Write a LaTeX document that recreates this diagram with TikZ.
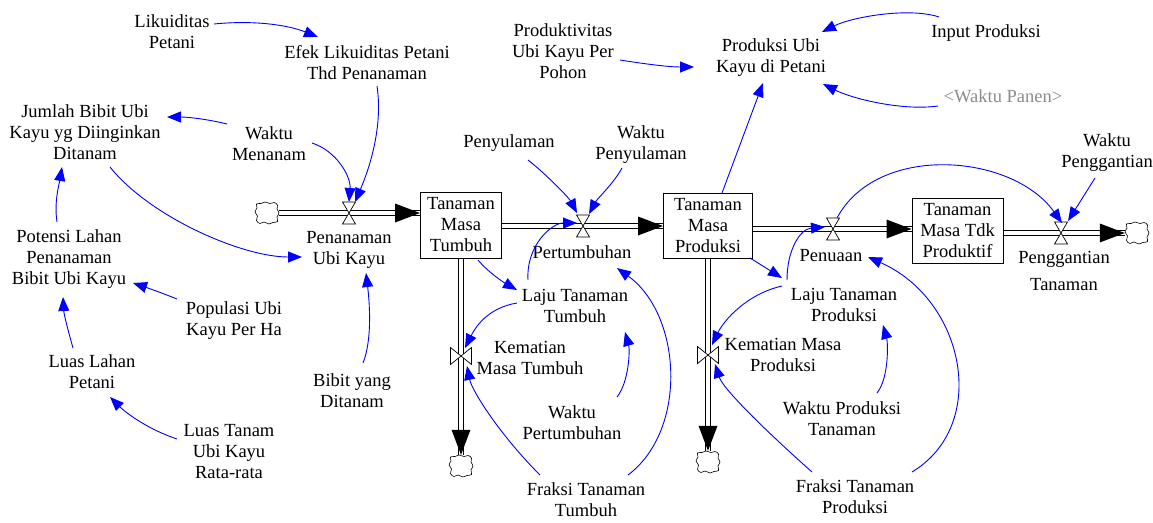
\documentclass[tikz,border=0pt]{standalone}
\usepackage{fontspec}
\setmainfont{Liberation Serif}
\usetikzlibrary{arrows.meta}

\tikzset{
  var/.style={align=center, inner sep=1pt, font=\fontsize{18.5}{21}\selectfont},
  shadowvar/.style={var, text=black!45},
  stockbox/.style={draw, line width=1pt, align=center, inner sep=0pt,
    font=\fontsize{18.5}{21}\selectfont},
  valvept/.style={inner sep=0pt, minimum width=13pt, minimum height=22pt},
  sink/.style={inner sep=0pt, minimum width=24pt, minimum height=22pt},
  link/.style={blue, line width=0.9pt, -{Triangle[length=14pt,width=11pt]}},
  pipe/.style={line width=1.1pt, double distance=3.2pt},
  valveh/.pic={\draw[fill=white, line width=0.7pt]
      (-6.5,-11) -- (6.5,-11) -- (0,0) -- cycle
      (-6.5,11) -- (6.5,11) -- (0,0) -- cycle;},
  valvev/.pic={\draw[fill=white, line width=0.7pt]
      (-10.5,-8.5) -- (-10.5,8.5) -- (0,0) -- cycle
      (10.5,-8.5) -- (10.5,8.5) -- (0,0) -- cycle;},
  puff/.pic={\draw[fill=white, line width=0.6pt] plot[smooth cycle, tension=0.7] coordinates {
      (12,0) (10,4) (10.5,8.5) (6,9.5) (2,11) (-3,9) (-7,10.5) (-10.5,7.5) (-9.5,3)
      (-12,-1) (-10,-5) (-10.5,-9) (-6,-9.5) (-2,-11) (3,-9.5) (7,-10.5) (10.5,-8) (10,-4)};},
  headright/.pic={\fill (0,0) -- (-25,-9.5) -- (-25,9.5) -- cycle;},
  headdown/.pic={\fill (0,0) -- (-9.5,-25) -- (9.5,-25) -- cycle;},
}

\begin{document}
\begin{tikzpicture}[x=1pt,y=-1pt]
\useasboundingbox (0,0) rectangle (1153,522);

% ---- stocks
\node[stockbox, minimum width=81pt, minimum height=66pt] (tmt) at (461,225) {Tanaman\\Masa\\Tumbuh};
\node[stockbox, minimum width=89pt, minimum height=65pt] (tmp) at (708,225.5) {Tanaman\\Masa\\Produksi};
\node[stockbox, minimum width=91pt, minimum height=65pt] (tmtp) at (957.5,230.5) {Tanaman\\Masa Tdk\\Produktif};

% ---- valve positions
\node[valvept] (v1) at (349,213) {};
\node[valvept] (v2) at (583,226) {};
\node[valvept] (v3) at (833,229) {};
\node[valvept] (v4) at (1061,233) {};
\node[valvept] (v5) at (461,356) {};
\node[valvept] (v6) at (708,355) {};

% ---- sources and sinks
\node[sink] (cl1) at (267,213) {};
\node[sink] (cl4) at (1137,233) {};
\node[sink] (cl5) at (461,466) {};
\node[sink] (cl6) at (708,462) {};

% ---- flow pipes
\draw[pipe] (cl1.east) -- (v1 -| tmt.west);
\pic at (v1 -| tmt.west) {headright};
\draw[pipe] (v2 -| tmt.east) -- (v2 -| tmp.west);
\pic at (v2 -| tmp.west) {headright};
\draw[pipe] (v3 -| tmp.east) -- (v3 -| tmtp.west);
\pic at (v3 -| tmtp.west) {headright};
\draw[pipe] (v4 -| tmtp.east) -- (cl4.west);
\pic at (cl4.west) {headright};
\draw[pipe] (tmt.south) -- (cl5.north);
\pic at (cl5.north) {headdown};
\draw[pipe] (tmp.south) -- (cl6.north);
\pic at (cl6.north) {headdown};

\pic at (cl1) {puff};
\pic at (cl4) {puff};
\pic at (cl5) {puff};
\pic at (cl6) {puff};

\pic at (v1) {valveh};
\pic at (v2) {valveh};
\pic at (v3) {valveh};
\pic at (v4) {valveh};
\pic at (v5) {valvev};
\pic at (v6) {valvev};

% ---- variables
\node[var] (lik) at (172,32) {Likuiditas\\Petani};
\node[var] (efek) at (367,63) {Efek Likuiditas Petani\\Thd Penanaman};
\node[var] (jbb) at (85,132) {Jumlah Bibit Ubi\\Kayu yg Diinginkan\\Ditanam};
\node[var] (wm) at (269,144) {Waktu\\Menanam};
\node[var] (pot) at (69,259) {Potensi Lahan\\Penanaman\\Bibit Ubi Kayu};
\node[var] (pop) at (234,321) {Populasi Ubi\\Kayu Per Ha};
\node[var] (lua) at (92,372) {Luas Lahan\\Petani};
\node[var] (lrt) at (229,452) {Luas Tanam\\Ubi Kayu\\Rata-rata};
\node[var] (bib) at (352,391) {Bibit yang\\Ditanam};
\node[var] (pen) at (349,250) {Penanaman\\Ubi Kayu};
\node[var] (pert) at (582,252) {Pertumbuhan};
\node[var] (penu) at (831,256) {Penuaan};
\node[var] (pgt) at (1064,271) {Penggantian\\[6pt]Tanaman};
\node[var] (kmt) at (530,358) {Kematian\\Masa Tumbuh};
\node[var] (kmp) at (783,355) {Kematian Masa\\Produksi};
\node[var] (ltt) at (575,306) {Laju Tanaman\\Tumbuh};
\node[var] (peny) at (509,143) {Penyulaman};
\node[var] (wpy) at (641,145) {Waktu\\Penyulaman};
\node[var] (prod) at (563,51) {Produktivitas\\Ubi Kayu Per\\Pohon};
\node[var] (pukp) at (771,58) {Produksi Ubi\\Kayu di Petani};
\node[var] (inp) at (986,33) {Input Produksi};
\node[shadowvar] (wpn) at (1003,96) {<Waktu Panen>};
\node[var] (wpg) at (1107,153) {Waktu\\Penggantian};
\node[var] (ltp) at (844,305) {Laju Tanaman\\Produksi};
\node[var] (wpt) at (572,423) {Waktu\\Pertumbuhan};
\node[var] (wpdt) at (842,419) {Waktu Produksi\\Tanaman};
\node[var] (ftt) at (586,500) {Fraksi Tanaman\\Tumbuh};
\node[var] (ftp) at (855,497) {Fraksi Tanaman\\Produksi};

% ---- causal links
\draw[link] ([shift={(42,-8)}]lik.center) .. controls +(40,-4) and +(-30,-12) .. ([shift={(-49,-26)}]efek.center);
\draw[link] ([shift={(10,23)}]efek.center) .. controls +(6,40) and +(15,-35) .. ([shift={(6,-11)}]v1.center);
\draw[link] ([shift={(-42,-20)}]wm.center) .. controls +(-20,-5) and +(20,0) .. ([shift={(82,-15)}]jbb.center);
\draw[link] ([shift={(43,-1)}]wm.center) .. controls +(25,8) and +(2,-25) .. ([shift={(0,-11)}]v1.center);
\draw[link] ([shift={(25,35)}]jbb.center) .. controls +(40,50) and +(-60,0) .. ([shift={(-47,7)}]pen.center);
\draw[link] ([shift={(-12,-37)}]pot.center) .. controls +(-3,-20) and +(-3,18) .. ([shift={(-23,35)}]jbb.center);
\draw[link] ([shift={(-57,-22)}]pop.center) .. controls +(-15,-6) and +(15,5) .. ([shift={(64,24)}]pot.center);
\draw[link] ([shift={(-19,-24)}]lua.center) .. controls +(-5,-18) and +(1,18) .. ([shift={(-6,38)}]pot.center);
\draw[link] ([shift={(-52,-13)}]lrt.center) .. controls +(-30,-10) and +(15,15) .. ([shift={(18,25)}]lua.center);
\draw[link] ([shift={(11,-28)}]bib.center) .. controls +(10,-25) and +(3,25) .. ([shift={(17,23)}]pen.center);
\draw[link] ([shift={(17,35)}]tmt.center) .. controls +(10,12) and +(-14,-8) .. ([shift={(-58,-16)}]ltt.center);
\draw[link] ([shift={(-47,-26)}]ltt.center) .. controls +(-2,-35) and +(-25,0) .. ([shift={(-6,-3)}]v2.center);
\draw[link] ([shift={(19,17)}]peny.center) .. controls +(18,14) and +(-8,-15) .. ([shift={(-6,-13)}]v2.center);
\draw[link] ([shift={(-19,23)}]wpy.center) .. controls +(-8,15) and +(8,-15) .. ([shift={(6,-12)}]v2.center);
\draw[link] ([shift={(-58,-3)}]ltt.center) .. controls +(-30,5) and +(10,-20) .. ([shift={(4,-8)}]v5.center);
\draw[link] ([shift={(45,-26)}]wpt.center) .. controls +(12,-15) and +(5,18) .. ([shift={(50,26)}]ltt.center);
\draw[link] ([shift={(-46,-25)}]ftt.center) .. controls +(-40,-40) and +(5,25) .. ([shift={(6,10)}]v5.center);
\draw[link] ([shift={(42,-25)}]ftt.center) .. controls +(60,-45) and +(65,47) .. ([shift={(35,16)}]pert.center);
\draw[link] ([shift={(14,-32.5)}]tmp.center) -- ([shift={(-8,25)}]pukp.center);
\draw[link] ([shift={(57,9)}]prod.center) .. controls +(25,4) and +(-25,0) .. ([shift={(-77,9)}]pukp.center);
\draw[link] ([shift={(-47,-16)}]inp.center) .. controls +(-30,-10) and +(30,-15) .. ([shift={(51,-26)}]pukp.center);
\draw[link] ([shift={(-65,10)}]wpn.center) .. controls +(-35,5) and +(30,15) .. ([shift={(52,26)}]pukp.center);
\draw[link] ([shift={(42,32.5)}]tmp.center) -- ([shift={(-62,-27)}]ltp.center);
\draw[link] ([shift={(-57,-25)}]ltp.center) .. controls +(0,-30) and +(-25,2) .. ([shift={(-8,-2)}]v3.center);
\draw[link] ([shift={(4,-11)}]v3.center) .. controls +(40,-75) and +(-50,-70) .. ([shift={(1,-10)}]v4.center);
\draw[link] ([shift={(-12,25)}]wpg.center) -- ([shift={(7,-12)}]v4.center);
\draw[link] ([shift={(-62,-19)}]ltp.center) .. controls +(-35,8) and +(12,-25) .. ([shift={(4,-10)}]v6.center);
\draw[link] ([shift={(35,-26)}]wpdt.center) .. controls +(12,-15) and +(5,18) .. ([shift={(39,20)}]ltp.center);
\draw[link] ([shift={(-43,-25)}]ftp.center) .. controls +(-45,-40) and +(8,25) .. ([shift={(7,9)}]v6.center);
\draw[link] ([shift={(57,-25)}]ftp.center) .. controls +(78,-47) and +(97,43) .. ([shift={(37,1)}]penu.center);
\end{tikzpicture}
\end{document}
